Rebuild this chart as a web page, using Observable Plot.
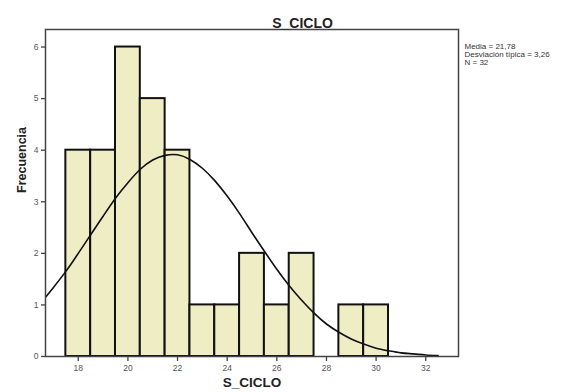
<!DOCTYPE html>
<html><head><meta charset="utf-8">
<script src="https://cdn.jsdelivr.net/npm/d3@7"></script>
<script src="https://cdn.jsdelivr.net/npm/@observablehq/plot@0.6"></script>
<style>body{margin:0;background:#fff}</style>
</head><body><div id="chart"></div>
<script>
const bins = [18,19,20,21,22,23,24,25,26,27,29,30];
const counts = [4,4,6,5,4,1,1,2,1,2,1,1];
const curveX = [16.7,17,17.5,18,18.5,19,19.5,20,20.5,21,21.5,22,22.5,23,23.5,24,24.5,25,25.5,26,26.5,27,27.5,28,28.5,29,29.5,30,30.5,31,31.5,32,32.5];
const curveY = [1.16,1.34,1.65,2.0,2.36,2.72,3.07,3.37,3.63,3.81,3.90,3.91,3.82,3.65,3.41,3.11,2.77,2.40,2.04,1.69,1.37,1.09,0.84,0.63,0.47,0.34,0.24,0.16,0.11,0.07,0.05,0.03,0.02];
const xTicks = [18,20,22,24,26,28,30,32];
const yTicks = [0,1,2,3,4,5,6];
const legendLines = ["Media = 21,78","Desviación típica = 3,26","N = 32"];
const title = "S_CICLO";
const xLabel = "S_CICLO";
const yLabel = "Frecuencia";

const barData = bins.map((b,i)=>({x1:b-0.5,x2:b+0.5,y:counts[i]}));
const curveData = curveX.map((x,i)=>({x,y:curveY[i]}));

const chart = Plot.plot({
  width:579, height:392,
  marginLeft:45, marginRight:121, marginTop:29, marginBottom:36,
  style:{fontFamily:"Liberation Sans, Arial, sans-serif", background:"#fff", overflow:"visible"},
  x:{domain:[16.68,33.32]},
  y:{domain:[0,6.34]},
  marks:[
    Plot.rectY(barData,{x1:"x1",x2:"x2",y:"y",fill:"#eeedc4",stroke:"#111",strokeWidth:2}),
    Plot.line(curveData,{x:"x",y:"y",curve:"natural",stroke:"#111",strokeWidth:1.6}),
    Plot.frame({stroke:"#444",strokeWidth:1.5}),
    Plot.axisX({ticks:xTicks,tickFormat:"d",tickSize:5,tickPadding:3,fontSize:8.5,fill:"#555",stroke:"#444",strokeWidth:1.3,label:null}),
    Plot.axisY({ticks:yTicks,tickFormat:"d",tickSize:4,tickPadding:3,fontSize:8.5,fill:"#555",stroke:"#444",strokeWidth:1.3,label:null}),
    Plot.text([title],{frameAnchor:"top-left",dx:257,dy:-11,textAnchor:"middle",fontSize:14,fontWeight:"bold",fill:"#222"}),
    Plot.text([xLabel],{frameAnchor:"bottom",dy:30,fontSize:13.5,fontWeight:"bold",fill:"#222"}),
    Plot.text([yLabel],{frameAnchor:"left",dx:-24,rotate:-90,fontSize:12.5,fontWeight:"bold",fill:"#222"}),
    Plot.text([legendLines.join("\n")],{frameAnchor:"top-right",dx:6,dy:14,textAnchor:"start",lineAnchor:"top",fontSize:8,lineHeight:0.98,fill:"#333"})
  ]
});
document.getElementById("chart").appendChild(chart);
</script></body></html>
